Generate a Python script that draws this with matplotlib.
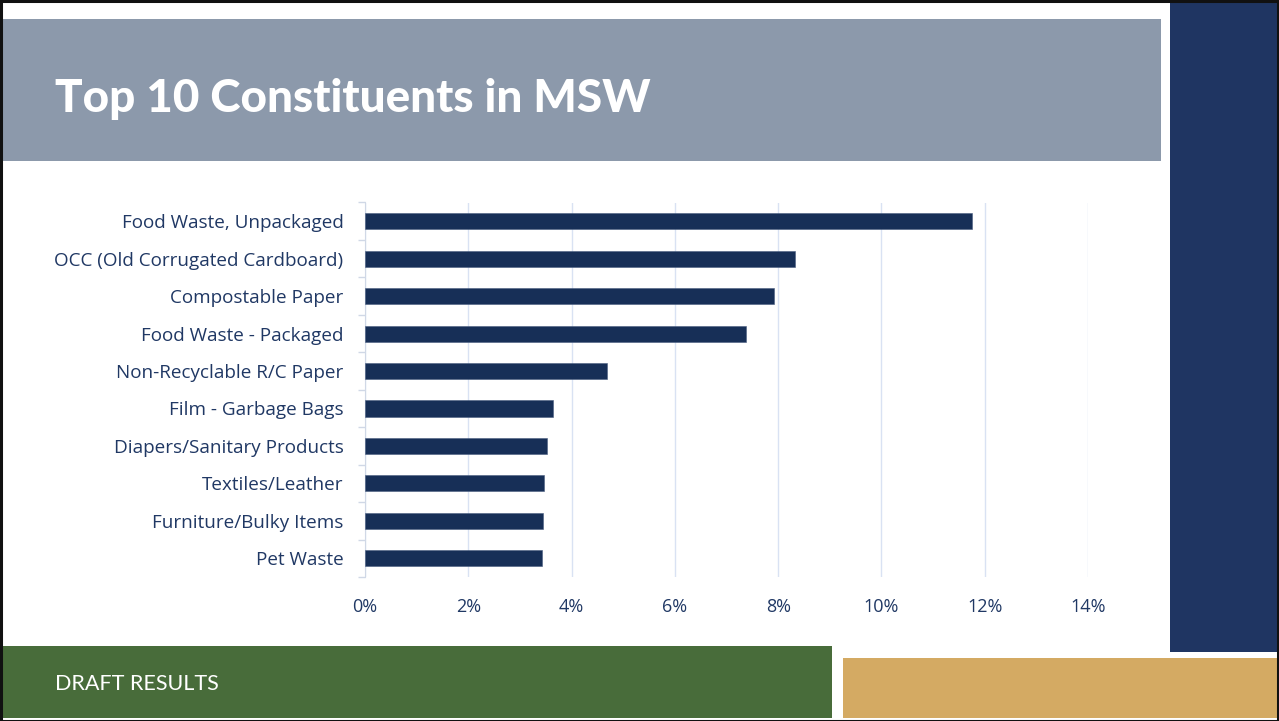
import matplotlib.pyplot as plt
from matplotlib.patches import Rectangle
from matplotlib.ticker import FuncFormatter, MultipleLocator

W, H = 1279, 721

categories = [
    'Food Waste, Unpackaged',
    'OCC (Old Corrugated Cardboard)',
    'Compostable Paper',
    'Food Waste - Packaged',
    'Non-Recyclable R/C Paper',
    'Film - Garbage Bags',
    'Diapers/Sanitary Products',
    'Textiles/Leather',
    'Furniture/Bulky Items',
    'Pet Waste',
]
shares = [0.1175, 0.0833, 0.0792, 0.0738, 0.0469, 0.0364, 0.0352, 0.0347, 0.0345, 0.0343]

NAVY = '#1F3562'
BAR = '#172F57'
TEXT = '#203864'


def box(fig, x0, y0, x1, y1, color, **kw):
    # pixel coords, y measured from the top
    r = Rectangle((x0 / W, 1 - y1 / H), (x1 - x0) / W, (y1 - y0) / H,
                  transform=fig.transFigure, facecolor=color, edgecolor='none', **kw)
    fig.add_artist(r)
    return r


fig = plt.figure(figsize=(W / 100, H / 100), dpi=100)
fig.patch.set_facecolor('white')

# slide decoration
box(fig, 2, 19, 1161, 161, '#8C99AB')
box(fig, 1170, 3, 1278, 652, NAVY)
box(fig, 2, 646, 832, 718, '#486C3A')
box(fig, 843, 658, 1278, 718, '#D4AA63')
fig.add_artist(Rectangle((0.5 / W, 0.5 / H), 1 - 1.5 / W, 1 - 1.5 / H,
                         transform=fig.transFigure, facecolor='none',
                         edgecolor='#111111', linewidth=2.2))

fig.text(55 / W, 1 - 99 / H, 'Top 10 Constituents in MSW', color='white',
         fontsize=33, fontweight='black', family='Lato', va='center', ha='left')
fig.text(55 / W, 1 - 684 / H, 'DRAFT RESULTS', color='white',
         fontsize=15.5, family='Lato', va='center', ha='left')

# bar chart
ax = fig.add_axes([365 / W, 1 - 577 / H, (1088 - 365) / W, (577 - 202.5) / H])
ypos = list(range(len(categories)))
ax.barh(ypos, shares, height=0.43, color=BAR, edgecolor='#4A5E80', linewidth=0.4, zorder=3)
ax.set_ylim(len(categories) - 0.5, -0.5)
ax.set_xlim(0, 0.14)

ax.xaxis.set_major_locator(MultipleLocator(0.02))
ax.xaxis.set_major_formatter(FuncFormatter(lambda v, p: f'{v * 100:.0f}%'))
ax.grid(axis='x', color='#D9E2F3', linewidth=1, zorder=0)

ax.set_yticks(ypos)
ax.set_yticklabels(categories)
ax.set_yticks([i - 0.5 for i in range(len(categories) + 1)], minor=True)
ax.tick_params(axis='y', which='major', length=0, pad=15.5, labelsize=13.6, labelcolor=TEXT)
ax.tick_params(axis='y', which='minor', length=5, color='#D0D8E6', width=1)
ax.tick_params(axis='x', length=0, pad=15, labelsize=13, labelcolor=TEXT)
for lab in ax.get_yticklabels() + ax.get_xticklabels():
    lab.set_family('Open Sans')

for s in ['top', 'right', 'bottom']:
    ax.spines[s].set_visible(False)
ax.spines['left'].set_color('#D0D8E6')

fig.savefig('out.png', dpi=100)
